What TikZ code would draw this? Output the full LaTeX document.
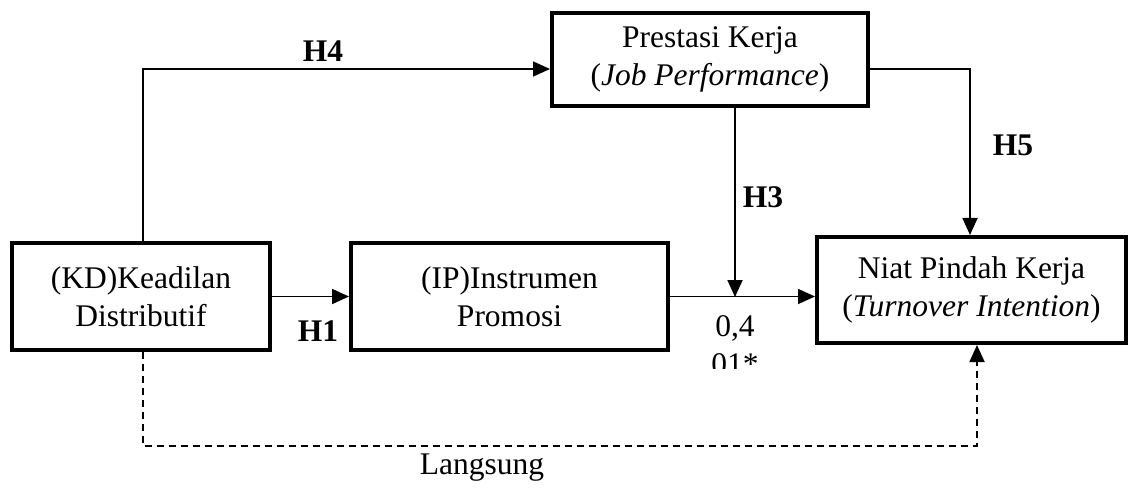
\documentclass[tikz,border=0pt]{standalone}
\usepackage{fontspec}
\setmainfont{Liberation Serif}
\usetikzlibrary{arrows.meta}
\newcommand\diagfont{\fontsize{31.5}{38}\selectfont}
\tikzset{
  box/.style={draw,line width=4pt,align=center,inner sep=0pt},
  conn/.style={line width=1.8pt,-{Triangle[length=17pt,width=15pt]}},
  hyp/.style={font=\diagfont\bfseries}
}

\begin{document}
\begin{tikzpicture}[x=1pt,y=-1pt,every node/.style={font=\diagfont}]
    \useasboundingbox (0,0) rectangle (1130,489);
    \node[box,minimum width=258pt,minimum height=107pt] at (141,296.5) (kd) {(KD)Keadilan\\Distributif};
    \node[box,minimum width=317pt,minimum height=107pt] at (509.5,296.5) (ip) {(IP)Instrumen\\Promosi};
    \node[box,minimum width=316pt,minimum height=93pt] at (710,59.5) (pk) {Prestasi Kerja\\(\textit{Job Performance})};
    \node[box,minimum width=309pt,minimum height=106pt] at (971.5,290) (npk) {Niat Pindah Kerja\\(\textit{Turnover Intention})};
    \coordinate (h4a) at (143,69);
    \coordinate (h3a) at (735,297);
    \coordinate (h5a) at (970,69);
    \coordinate (la) at (143,446);
    \coordinate (lb) at (977,446);
        \draw[conn] (kd) -- (ip);
        \draw[conn] (ip) -- (npk.west |- ip);
        \draw[conn] (kd.north -| h4a) -- (h4a) -- (pk.west |- h4a);
        \draw[conn] (pk.south -| h3a) -- (h3a);
        \draw[conn] (pk.east |- h5a) -- (h5a) -- (npk.north -| h5a);
        \draw[conn,dash pattern=on 7pt off 5pt] (kd.south -| la) -- (la) -- (lb) -- (npk.south -| lb);
    \node[hyp] at (318,331) (h1) {H1};
    \node[hyp] at (323,51) (h4) {H4};
    \node[hyp] at (763,197) (h3) {H3};
    \node[hyp] at (1013,145) (h5) {H5};
    \begin{scope}
        \clip (690,305) rectangle (790,368);
        \node[align=center] at (735,345) (val) {0,4\\01*};
    \end{scope}
    \node at (482,468) (lang) {Langsung};
\end{tikzpicture}
\end{document}
